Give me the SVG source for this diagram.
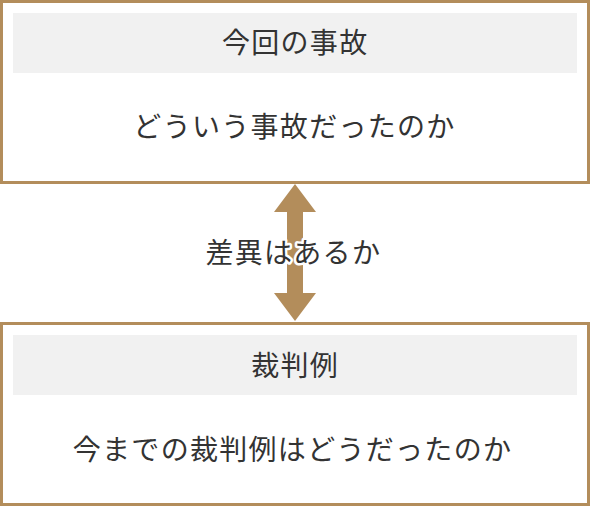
<svg xmlns="http://www.w3.org/2000/svg" width="590" height="506" viewBox="0 0 590 506">
<style>
.frame{fill:#ffffff;stroke:#b38d5b;stroke-width:3}
.head{fill:#f1f1f1}
.t{font-family:"Noto Sans CJK JP","Noto Sans",sans-serif;font-size:28px;letter-spacing:1.3px;fill:#333333;text-anchor:middle;dominant-baseline:central}
.lbl{stroke:#ffffff;stroke-width:5;stroke-linejoin:round;paint-order:stroke}
.arrow{fill:#b38d5b}
</style>
<rect x="0" y="0" width="590" height="506" fill="#ffffff"/>
<g id="node-accident">
<rect class="frame" x="1.5" y="1.5" width="587" height="181"/>
<rect class="head" x="13" y="13" width="564" height="60"/>
<text class="t" x="295.2" y="41">今回の事故</text>
<text class="t" x="294.5" y="125">どういう事故だったのか</text>
</g>
<g id="node-precedent">
<rect class="frame" x="1.5" y="323.5" width="587" height="181"/>
<rect class="head" x="13" y="335" width="564" height="60"/>
<text class="t" x="295.2" y="363.5">裁判例</text>
<text class="t" x="292.5" y="447.5">今までの裁判例はどうだったのか</text>
</g>
<g id="connectors">
<polygon class="arrow" points="295,184 316,212 303,212 303,293 316,293 295,321 274,293 287,293 287,212 274,212"/>
<text class="t lbl" x="293.3" y="251">差異はあるか</text>
</g>
</svg>
